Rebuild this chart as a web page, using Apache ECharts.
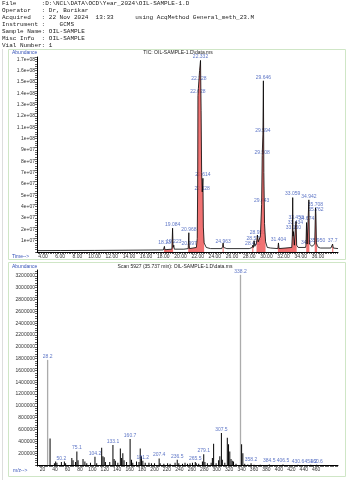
<!DOCTYPE html>
<html>
<head>
<meta charset="utf-8">
<script src="https://cdn.jsdelivr.net/npm/echarts@6/dist/echarts.min.js"></script>
<style>
body{margin:0;background:#fff;}
#hdr{position:absolute;left:2px;top:0px;margin:0;font-family:'Liberation Mono',monospace;font-size:6px;line-height:7px;color:#222;white-space:pre;z-index:2;}
#chart{position:absolute;left:0;top:0;width:351px;height:480px;}
</style>
</head>
<body>
<pre id="hdr"></pre>
<div id="chart"></div>
<script>
const headerLines = [
  'File       :D:\\NCL\\DATA\\OCD\\Year_2024\\OIL-SAMPLE-1.D',
  'Operator   : Dr, Borikar',
  'Acquired   : 22 Nov 2024  13:33      using AcqMethod General_meth_23.M',
  'Instrument :    GCMS',
  'Sample Name: OIL-SAMPLE',
  'Misc Info  : OIL-SAMPLE',
  'Vial Number: 1'
]

// TIC trace (time min, abundance)
const ticTrace = [
  [3.3,1.2e6],[6,1.3e6],[10,1.4e6],[14,1.6e6],[18.0,1.8e6],
  [18.08,2e6],[18.13,5e6],[18.18,2e6],
  [19.0,2.5e6],[19.08,2.1e7],[19.14,4e6],[19.22,6e6],[19.28,2.5e6],
  [20.4,2.5e6],[20.45,4e6],[20.5,2.5e6],
  [20.9,3e6],[20.97,1.7e7],[21.0,7e6],[21.05,3e6],
  [21.85,4e6],[21.95,1.2e7],[22.0,6e7],[22.03,1.38e8],[22.08,1.44e8],[22.13,1.5e8],[22.22,1.6e8],[22.33,1.69e8],[22.4,1.25e8],[22.46,7e7],[22.53,5.3e7],[22.57,5.8e7],[22.61,6.5e7],[22.66,2.2e7],[22.75,8e6],[23.0,4e6],[23.5,3e6],[24.8,3e6],
  [24.9,5e6],[24.96,8e6],[25.02,4e6],[25.4,3e6],
  [28.0,3e6],[28.35,4e6],[28.41,6e6],[28.48,4e6],[28.57,1e7],[28.65,5e6],[28.85,8e6],[28.95,1.5e7],[29.05,9e6],[29.3,1.4e7],[29.44,4.2e7],[29.51,8.5e7],[29.59,1.04e8],[29.646,1.51e8],[29.7,7e7],[29.78,2.5e7],[29.9,9e6],[30.1,4e6],[30.5,3.5e6],
  [31.33,3e6],[31.4,8e6],[31.47,3e6],
  [32.95,4e6],[33.02,1.5e7],[33.06,4.8e7],[33.1,1.4e7],[33.15,1.8e7],[33.25,6e6],[33.38,2.2e7],[33.45,2.7e7],[33.52,6e6],[33.7,4e6],
  [34.55,4e6],[34.6,6e6],[34.63,5e6],[34.67,2.6e7],[34.74,7e6],[34.88,8e6],[34.94,4.6e7],[35.0,7e6],[35.3,5e6],[35.62,7e6],[35.71,3.9e7],[35.76,3.4e7],[35.82,8e6],[35.9,6e6],[35.95,7e6],[36.05,4e6],[36.3,3.5e6],[37.5,3.5e6],[37.65,4e6],[37.7,7e6],[37.78,3.5e6],[38.33,3e6]
]
// integrated windows (red)
const ticWindows = [[18.08,18.18],[19.0,19.14],[20.9,21.05],[21.85,22.75],[24.9,25.02],[28.35,28.48],[28.85,29.9],[31.33,31.47],[32.95,33.52],[34.63,35.0],[35.62,35.9],[37.65,37.78]]
// peak labels: time, abundance, text
const ticPeaks = [
  [18.13,5e6,'18.13'],[19.08,2.1e7,'19.084'],[19.22,6e6,'19.223'],[20.97,1.7e7,'20.968'],[21.0,4e6,'20.997'],
  [22.33,1.69e8,'22.332'],[22.13,1.5e8,'22.128'],[22.03,1.38e8,'22.028'],[22.61,6.5e7,'22.614'],[22.53,5.3e7,'22.528'],
  [24.96,6e6,'24.963'],
  [28.41,4e6,'28.413'],[28.57,9e6,'28.573'],[28.95,1.4e7,'28.950'],[29.44,4.2e7,'29.443'],[29.51,8.5e7,'29.508'],[29.59,1.04e8,'29.594'],[29.646,1.51e8,'29.646'],
  [31.4,8e6,'31.404'],
  [33.06,4.8e7,'33.059'],[33.45,2.7e7,'33.453'],[33.38,2.3e7,'33.434'],[33.15,1.8e7,'33.150'],
  [34.67,2.6e7,'34.674'],[34.94,4.6e7,'34.942'],[34.6,5e6,'34.6'],
  [35.71,3.9e7,'35.708'],[35.76,3.4e7,'35.762'],[35.95,7e6,'35.950'],
  [37.7,7e6,'37.7']
]
const ticTimeTicks = [4,6,8,10,12,14,16,18,20,22,24,26,28,30,32,34,36]
const ticAbTicks = [1e7,2e7,3e7,4e7,5e7,6e7,7e7,8e7,9e7,1e8,1.1e8,1.2e8,1.3e8,1.4e8,1.5e8,1.6e8,1.7e8]

// mass spectrum sticks (m/z, abundance)
const msSticks = [
  [28.2,1.78e6],[32,4.5e5],[39,3e4],[41,6e4],[43,4e4],[50.2,5e4],[55,6e4],[57,3e4],[67,1.2e5],[69,8e4],[73,5e4],[75.1,2.3e5],[77,8e4],[85,1e5],[88,6e4],[91,3e4],[97,4e4],[104.2,1.4e5],[107,3e4],
  [115,2.9e5],[117,1.5e5],[119,1.3e5],[121,5e4],[128,5e4],[133.1,3.4e5],[135,1e5],[137,7e4],[141,4e4],[145,2.8e5],[147,1.2e5],[149,2e5],[151,8e4],[155,5e4],
  [160.7,4.4e5],[163,9e4],[165,4e4],[171,6e4],[175,5e4],[177,2.8e5],[179,1.5e5],[181.2,7e4],[185,4e4],[191,4e4],[195,3e4],[200,3e4],[207.4,1.1e5],[209,3e4],[215,2e4],
  [221,3e4],[225,2e4],[233,4e4],[236.5,9e4],[239,3e4],[245,2e4],[249,4e4],[253,2e4],[257,3e4],[261,4e4],[265.5,5e4],[267,3e4],[271,2e4],[277,6e4],[279.1,1.8e5],[281,5e4],[285,3e4],
  [291,4e4],[293,1.2e5],[295,3.6e5],[299,3e4],[303,8e4],[305,1.5e5],[307.5,5.4e5],[309,9e4],[313,4e4],[317,4.6e5],[319,3.5e5],[321,2.3e5],[323,1e5],[325,7e4],[327,6e4],[331,2e4],
  [338.2,3.22e6],[340,3.5e5],[342,2e5],[345,2e4],[350,1e4],[355.2,3e4],[360,5e3],[370,5e3],[384.5,8e3],[406.5,8e3],[430.6,6e3],[451.2,6e3],[460.6,5e3]
]
const msGrey = [28.2,338.2]
const msPeaks = [
  [28.2,1.78e6,'28.2'],[50.2,5e4,'50.2'],[75.1,2.3e5,'75.1'],[104.2,1.4e5,'104.2'],[133.1,3.4e5,'133.1'],[160.7,4.4e5,'160.7'],[181.2,7e4,'181.2'],
  [207.4,1.1e5,'207.4'],[236.5,9e4,'236.5'],[265.5,5e4,'265.5'],[279.1,1.8e5,'279.1'],[307.5,5.4e5,'307.5'],[338.2,3.22e6,'338.2'],
  [355.2,3e4,'358.2'],[384.5,8e3,'384.5'],[406.5,8e3,'406.5'],[430.6,6e3,'430.6'],[451.2,6e3,'451.2'],[460.6,5e3,'460.6']
]
const msTicks = [20,40,60,80,100,120,140,160,180,200,220,240,260,280,300,320,340,360,380,400,420,440,460]
const msAbTicks = [200000,400000,600000,800000,1000000,1200000,1400000,1600000,1800000,2000000,2200000,2400000,2600000,2800000,3000000,3200000]

document.getElementById('hdr').textContent = headerLines.join('\n')

const blue = '#3552b8'
const font = 'Liberation Sans'
const inWin = t => ticWindows.some(w => t >= w[0] && t <= w[1])
const ticRed = ticTrace.map(p => inWin(p[0]) ? p : [p[0], '-'])
const expFmt = v => {
  const [m, e] = v.toExponential().split('e')
  return m + 'e' + e[0] + e.slice(1).padStart(2, '0')
}
const steps = (a, b, s) => { const r = []; for (let v = a; v <= b + 1e-9; v += s) r.push(+v.toFixed(4)); return r }

const axisBase = {
  axisLine: {lineStyle: {color: '#000', width: 1}},
  splitLine: {show: false},
  axisTick: {length: 2, lineStyle: {color: '#000', width: 0.6}},
  axisLabel: {fontSize: 5, fontFamily: font, color: '#333', margin: 2}
}

const chart = echarts.init(document.getElementById('chart'), null, {renderer: 'canvas'})
chart.setOption({
  animation: false,
  backgroundColor: 'transparent',
  grid: [
    {left: 37, top: 57, width: 301, height: 195},
    {left: 37, top: 270, width: 301, height: 195}
  ],
  xAxis: [
    {...axisBase, type: 'value', gridIndex: 0, min: 3.3, max: 38.33,
      axisTick: {...axisBase.axisTick, customValues: steps(3.4, 38.2, 0.2)},
      axisLabel: {...axisBase.axisLabel, customValues: ticTimeTicks, formatter: v => v.toFixed(2)}},
    {...axisBase, type: 'value', gridIndex: 1, min: 11, max: 495,
      axisTick: {...axisBase.axisTick, customValues: steps(12, 494, 2)},
      axisLabel: {...axisBase.axisLabel, customValues: msTicks, formatter: v => String(v)}}
  ],
  yAxis: [
    {...axisBase, type: 'value', gridIndex: 0, min: 0, max: 1.72e8,
      axisTick: {...axisBase.axisTick, customValues: steps(0, 1.72e8, 2e6)},
      axisLabel: {...axisBase.axisLabel, customValues: ticAbTicks, formatter: expFmt}},
    {...axisBase, type: 'value', gridIndex: 1, min: 0, max: 3.3e6,
      axisTick: {...axisBase.axisTick, customValues: steps(0, 3.3e6, 40000)},
      axisLabel: {...axisBase.axisLabel, customValues: msAbTicks, formatter: v => String(v)}}
  ],
  graphic: [
    {type: 'rect', shape: {x: 8.5, y: 49.5, width: 337, height: 210}, style: {fill: 'none', stroke: '#cfe6c6', lineWidth: 1}},
    {type: 'rect', shape: {x: 8.5, y: 262.5, width: 337, height: 214}, style: {fill: 'none', stroke: '#cfe6c6', lineWidth: 1}},
    {type: 'line', shape: {x1: 2.5, y1: 49, x2: 2.5, y2: 480}, style: {stroke: '#ddd', lineWidth: 1}},
    {type: 'text', x: 12, y: 50.5, style: {text: 'Abundance', fontSize: 5, fontFamily: font, fill: blue}},
    {type: 'text', x: 178, y: 50.5, style: {text: 'TIC: OIL-SAMPLE-1.D\\data.ms', fontSize: 5, fontFamily: font, fill: '#222', textAlign: 'center'}},
    {type: 'text', x: 12, y: 254, style: {text: 'Time-->', fontSize: 5, fontFamily: font, fill: blue}},
    {type: 'text', x: 12, y: 264, style: {text: 'Abundance', fontSize: 5, fontFamily: font, fill: blue}},
    {type: 'text', x: 175, y: 264, style: {text: 'Scan 5927 (35.737 min): OIL-SAMPLE-1.D\\data.ms', fontSize: 5, fontFamily: font, fill: '#222', textAlign: 'center'}},
    {type: 'text', x: 13, y: 468, style: {text: 'm/z-->', fontSize: 5, fontFamily: font, fill: blue}}
  ],
  series: [
    {type: 'line', xAxisIndex: 0, yAxisIndex: 0, data: ticRed, symbol: 'none', connectNulls: false,
      lineStyle: {width: 0}, areaStyle: {color: '#ee5a5a', opacity: 0.85}},
    {type: 'line', xAxisIndex: 0, yAxisIndex: 0, data: ticTrace, symbol: 'none',
      lineStyle: {color: '#000', width: 0.8}},
    {type: 'scatter', xAxisIndex: 0, yAxisIndex: 0, data: ticPeaks, symbolSize: 0,
      label: {show: true, position: 'top', distance: 1, formatter: p => p.data[2], fontSize: 5, fontFamily: font, color: blue}},
    {type: 'bar', xAxisIndex: 1, yAxisIndex: 1, barWidth: 1,
      data: msSticks.map(p => msGrey.includes(p[0]) ? {value: p, itemStyle: {color: '#999', borderColor: '#999', borderWidth: 0.5}} : p),
      itemStyle: {color: '#000'}},
    {type: 'scatter', xAxisIndex: 1, yAxisIndex: 1, data: msPeaks, symbolSize: 0,
      label: {show: true, position: 'top', distance: 1, formatter: p => p.data[2], fontSize: 5, fontFamily: font, color: blue}}
  ]
})
</script>
</body>
</html>
